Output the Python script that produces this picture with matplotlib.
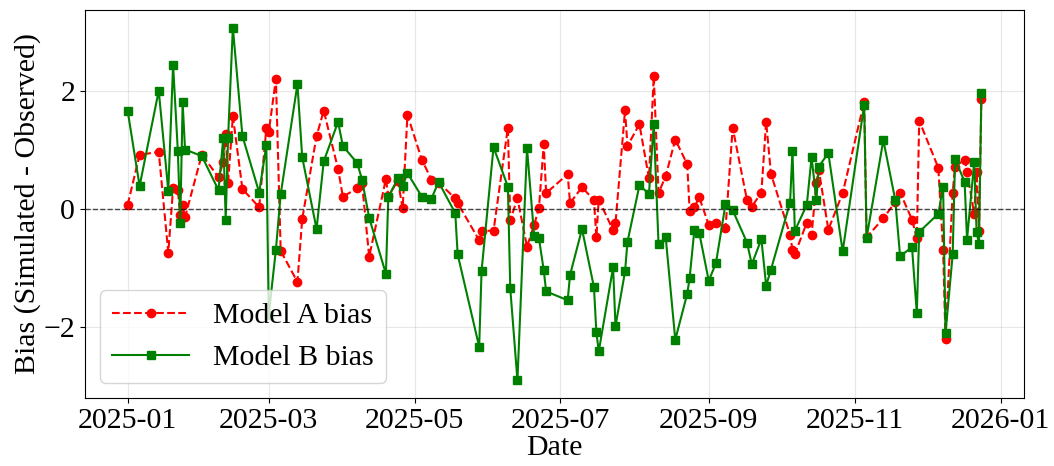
import matplotlib
matplotlib.use('Agg')
import matplotlib.pyplot as plt
import matplotlib.dates as mdates
import pandas as pd

plt.rcParams['font.family'] = ['Liberation Serif', 'DejaVu Serif']
plt.rcParams['font.size'] = 21.5

# day offsets from 2025-01-01
days = [0, 5, 13, 17, 19, 21, 22, 23, 24, 31, 38, 40, 41, 42, 44, 48, 55, 58, 59, 62,
        64, 71, 73, 79, 82, 88, 90, 96, 98, 101, 108, 109, 113, 115, 117, 123, 127, 130, 137, 138,
        147, 148, 153, 159, 160, 163, 167, 170, 172, 174, 175, 184, 185, 190, 195, 196, 197, 203, 204, 208,
        209, 214, 218, 220, 222, 225, 229, 234, 235, 237, 239, 243, 246, 250, 253, 259, 261, 265, 267, 269,
        277, 278, 279, 284, 286, 288, 289, 293, 299, 308, 309, 316, 321, 323, 328, 330, 331, 339, 341, 342,
        345, 346, 350, 351, 354, 355, 356, 357]

model_a = [0.07, 0.92, 0.97, -0.74, 0.35, 0.32, -0.10, 0.06, -0.14, 0.92, 0.54, 0.80, 1.28, 0.44, 1.58, 0.34, 0.03, 1.37, 1.31, 2.21,
           -0.71, -1.24, -0.17, 1.24, 1.67, 0.68, 0.21, 0.35, 0.44, -0.81, 0.51, 0.22, 0.48, 0.01, 1.60, 0.84, 0.50, 0.45, 0.18, 0.10,
           -0.53, -0.37, -0.37, 1.38, -0.19, 0.18, -0.64, -0.27, 0.02, 1.10, 0.27, 0.59, 0.10, 0.37, 0.15, -0.48, 0.16, -0.36, -0.24, 1.68,
           1.07, 1.44, 0.52, 2.26, 0.27, 0.56, 1.18, 0.76, -0.03, 0.03, 0.20, -0.27, -0.24, -0.33, 1.38, 0.15, 0.04, 0.28, 1.48, 0.60,
           -0.44, -0.69, -0.77, -0.23, -0.44, 0.45, 0.67, -0.35, 0.27, 1.82, -0.48, -0.16, 0.12, 0.28, -0.18, -0.50, 1.50, 0.70, -0.69, -2.20,
           0.28, 0.72, 0.84, 0.63, -0.08, 0.62, -0.37, 1.86]

model_b = [1.67, 0.39, 2.01, 0.31, 2.45, 0.98, -0.23, 1.81, 1.01, 0.90, 0.32, 1.21, -0.18, 1.21, 3.08, 1.24, 0.28, 1.08, -1.80, -0.69,
           0.25, 2.12, 0.88, -0.34, 0.81, 1.48, 1.07, 0.78, 0.50, -0.15, -1.10, 0.20, 0.52, 0.39, 0.61, 0.21, 0.17, 0.46, -0.07, -0.77,
           -2.34, -1.05, 1.05, 0.38, -1.35, -2.91, 1.03, -0.46, -0.50, -1.04, -1.40, -1.55, -1.12, -0.34, -1.33, -2.09, -2.42, -0.99, -1.99, -1.06,
           -0.56, 0.40, 0.26, 1.44, -0.60, -0.48, -2.22, -1.44, -1.17, -0.35, -0.40, -1.22, -0.92, 0.08, -0.02, -0.57, -0.94, -0.51, -1.30, -1.03,
           0.11, 0.99, -0.37, 0.07, 0.88, 0.15, 0.72, 0.95, -0.72, 1.77, -0.49, 1.17, 0.15, -0.80, -0.65, -1.77, -0.39, -0.08, 0.38, -2.11,
           -0.77, 0.85, 0.46, -0.52, 0.80, -0.39, -0.59, 1.97]

dates = pd.Timestamp('2025-01-01') + pd.to_timedelta(days, unit='D')

fig = plt.figure(figsize=(10.54, 4.66), dpi=100)
ax = fig.add_axes([0.0806, 0.146, 0.891, 0.8325])

ax.plot(dates, model_a, 'o--', color='red', lw=1.5, ms=6, label='Model A bias')
ax.plot(dates, model_b, 's-', color='green', lw=1.5, ms=6, label='Model B bias')
ax.axhline(0, color='black', ls='--', lw=1, alpha=0.7)

ax.grid(True, alpha=0.3)
ax.set_yticks([-2, 0, 2])
ax.xaxis.set_major_locator(mdates.MonthLocator(bymonth=[1, 3, 5, 7, 9, 11]))
ax.xaxis.set_major_formatter(mdates.DateFormatter('%Y-%m'))
ax.set_xlabel('Date', labelpad=1)
ax.set_ylabel('Bias (Simulated - Observed)', labelpad=2)
ax.legend(loc='lower left', handlelength=2.6)

fig.savefig('out.png', dpi=100)
